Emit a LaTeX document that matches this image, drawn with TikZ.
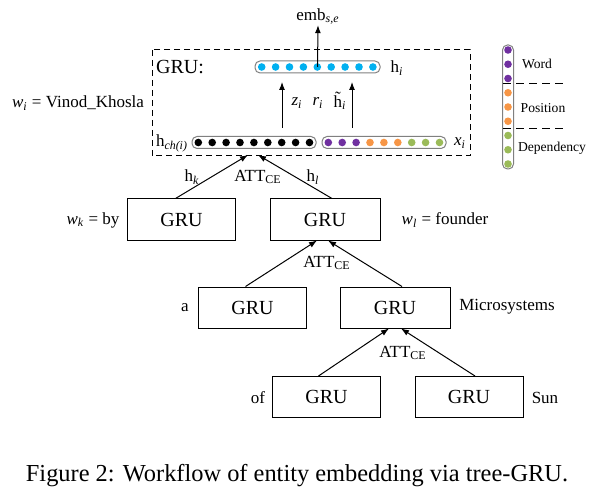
\documentclass[tikz,border=0pt]{standalone}
\usepackage{fontspec}
\setmainfont{Liberation Serif}
\usetikzlibrary{arrows.meta}

\definecolor{dotblue}{HTML}{00B0F0}
\definecolor{dotpurple}{HTML}{7030A0}
\definecolor{dotorange}{HTML}{F79646}
\definecolor{dotgreen}{HTML}{9BBB59}

\tikzset{
  grubox/.style={draw,line width=0.5pt,minimum width=54pt,minimum height=20.5pt,
    inner sep=0pt,font=\fontsize{10}{12}\selectfont},
  lbl/.style={inner sep=0pt,font=\fontsize{8.5}{10}\selectfont},
  leglbl/.style={inner sep=0pt,font=\fontsize{6.8}{8}\selectfont},
  vecbar/.style={draw=gray,line width=0.5pt,rounded corners=2.5pt,inner sep=0pt,
    minimum height=6pt},
  arr/.style={-{Latex[length=4pt,width=3pt]},line width=0.5pt},
}

\begin{document}
\begin{tikzpicture}[x=0.5pt,y=-0.5pt]
\useasboundingbox (0,0) rectangle (592,496);

% GRU cell
\draw [line width=0.5pt,dash pattern=on 3pt off 2pt] (152,50) rectangle (470,156);
\node[lbl,font=\fontsize{10}{12}\selectfont] (grulbl) at (180,67) {GRU:};
\node[vecbar,minimum width=62.5pt] (hbar) at (317.5,67) {};
\foreach \i in {0,...,8}
  \fill [dotblue] (261.7+13.9*\i,67) circle (1.9pt);
\node[lbl] (hi) at (397,68) {h\textsubscript{\itshape i}};

\node[lbl] (emb) at (318,17) {emb\textsubscript{\itshape s,e}};
\draw[arr] (hbar.center) -- (emb.south);

\node[vecbar,minimum width=62pt] (hch) at (254,142.5) {};
\foreach \i in {0,...,8}
  \fill [black] (198.3+13.9*\i,142.5) circle (1.9pt);
\node[vecbar,minimum width=62pt] (xbar) at (384,142.5) {};
\foreach \i/\c in {0/dotpurple,1/dotpurple,2/dotpurple,3/dotorange,4/dotorange,5/dotorange,6/dotgreen,7/dotgreen,8/dotgreen}
  \fill [\c] (328.3+13.9*\i,142.5) circle (1.9pt);
\node[lbl] (hchlbl) at (172,143) {h\textsubscript{\itshape ch(i)}};
\node[lbl] (xi) at (460,143) {\itshape x\textsubscript{i}};

\coordinate (zlow) at (282,128);
\coordinate (zup) at (282,82);
\coordinate (hlow) at (352,128);
\coordinate (hup) at (352,82);
\draw[arr] (zlow) -- (zup);
\draw[arr] (hlow) -- (hup);
\node[lbl] (zi) at (297,103) {\itshape z\textsubscript{i}};
\node[lbl] (ri) at (318,103) {\itshape r\textsubscript{i}};
\node[lbl] (hti) at (340,101) {\~{h}\textsubscript{\itshape i}};
\node[lbl] (wi) at (78,103) {\textit{w}\textsubscript{\itshape i} = Vinod\_Khosla};

% legend
\node[vecbar,minimum width=5.5pt,minimum height=62pt] (legbar) at (508,107) {};
\foreach \i/\c in {0/dotpurple,1/dotpurple,2/dotpurple,3/dotorange,4/dotorange,5/dotorange,6/dotgreen,7/dotgreen,8/dotgreen}
  \fill [\c] (508,50+14.25*\i) circle (1.9pt);
\draw [line width=0.5pt,dash pattern=on 4pt off 2.5pt] (503,84) -- (563,84);
\draw [line width=0.5pt,dash pattern=on 4pt off 2.5pt] (503,129) -- (563,129);
\node[leglbl] (legword) at (537,64) {Word};
\node[leglbl] (legpos) at (543,108) {Position};
\node[leglbl] (legdep) at (552,148) {Dependency};

% tree
\node[grubox] (by) at (181.5,219.5) {GRU};
\node[grubox,minimum width=55pt] (founder) at (325,219.5) {GRU};
\node[grubox] (a) at (252.5,307.5) {GRU};
\node[grubox,minimum width=55pt] (micro) at (395,307.5) {GRU};
\node[grubox] (of) at (326.5,397) {GRU};
\node[grubox] (sun) at (469,397) {GRU};

\draw[arr] ([xshift=-3pt]by.north) -- ([xshift=-3pt,yshift=-3pt]hch.south);
\draw[arr] ([xshift=3.5pt]founder.north) -- ([xshift=2pt,yshift=-3pt]hch.south);
\draw[arr] ([xshift=-3.5pt]a.north) -- ([xshift=-4pt]founder.south);
\draw[arr] ([xshift=3.5pt]micro.north) -- ([xshift=1.5pt]founder.south);
\draw[arr] ([xshift=-4pt]of.north) -- ([xshift=-3pt]micro.south);
\draw[arr] ([xshift=3pt]sun.north) -- ([xshift=3pt]micro.south);

\node[lbl] (hk) at (192,177) {h\textsubscript{\itshape k}};
\node[lbl] (att1) at (258,177) {ATT\textsubscript{CE}};
\node[lbl] (hl) at (313,177) {h\textsubscript{\itshape l}};
\node[lbl] (wk) at (93,220) {\textit{w}\textsubscript{\itshape k} = by};
\node[lbl] (wl) at (445,220) {\textit{w}\textsubscript{\itshape l} = founder};
\node[lbl] (att2) at (327,263) {ATT\textsubscript{CE}};
\node[lbl] (alb) at (185,308) {a};
\node[lbl] (microlbl) at (507,307) {Microsystems};
\node[lbl] (att3) at (403,353) {ATT\textsubscript{CE}};
\node[lbl] (oflbl) at (258,398) {of};
\node[lbl] (sunlbl) at (545,398) {Sun};

\node[inner sep=0pt,font=\fontsize{12.2}{14}\selectfont] (caption) at (297,476)
  {Figure 2: Workflow of entity embedding via tree-GRU.};
\end{tikzpicture}
\end{document}
